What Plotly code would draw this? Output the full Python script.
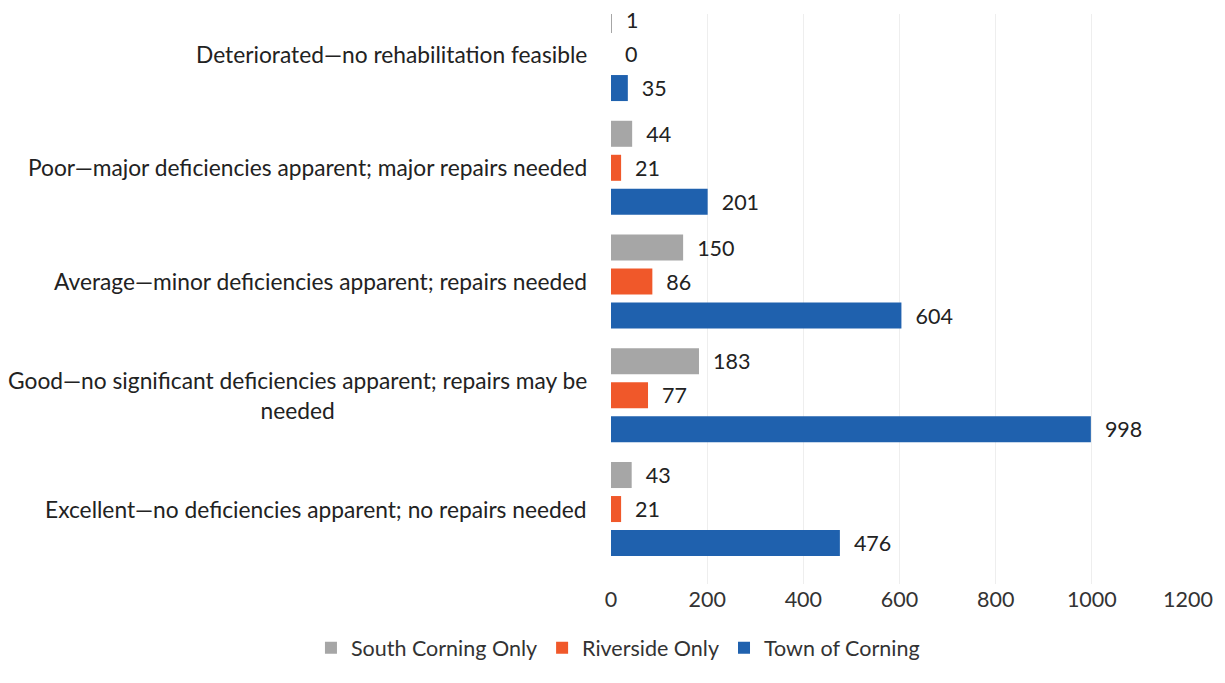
import plotly.graph_objects as go

categories = [
    "Excellent",
    "Good",
    "Average",
    "Poor",
    "Deteriorated",
]
category_labels = [
    "Excellent—no deficiencies apparent; no repairs needed",
    "Good—no significant deficiencies apparent; repairs may be<br>needed",
    "Average—minor deficiencies apparent; repairs needed",
    "Poor—major deficiencies apparent; major repairs needed",
    "Deteriorated—no rehabilitation feasible",
]
town_of_corning = [476, 998, 604, 201, 35]
riverside_only = [21, 77, 86, 21, 0]
south_corning_only = [43, 183, 150, 44, 1]

series = [
    ("Town of Corning", town_of_corning, "#1f61ae"),
    ("Riverside Only", riverside_only, "#f0582a"),
    ("South Corning Only", south_corning_only, "#a6a6a6"),
]

font_family = "Lato, Open Sans, sans-serif"
pad = "\u00a0\u00a0"

fig = go.Figure()
for name, vals, color in series:
    fig.add_trace(go.Bar(
        y=categories, x=vals, name=name, orientation="h",
        marker=dict(color=color, line=dict(width=0)),
        text=[pad + str(v) for v in vals], textposition="outside",
        textfont=dict(size=21.5, color="#222222", family=font_family),
        cliponaxis=False,
    ))

for cat, lab in zip(categories, category_labels):
    fig.add_annotation(x=0, xref="paper", xanchor="right", xshift=-22,
                       y=cat, yref="y", yanchor="middle", text=lab,
                       showarrow=False, align="center",
                       font=dict(size=22.75, color="#222222", family=font_family))

fig.update_layout(
    barmode="group", bargap=0.103, bargroupgap=0.235,
    width=1225, height=683,
    margin=dict(l=603, r=45, t=6, b=107),
    plot_bgcolor="white", paper_bgcolor="white",
    font=dict(family=font_family, size=21.5, color="#222222"),
    legend=dict(orientation="h", traceorder="reversed", x=-0.52, xanchor="left",
                y=-0.112, yanchor="middle", font=dict(size=21.5, color="#333333")),
    showlegend=True,
)
fig.update_xaxes(range=[0, 1200], dtick=200, showgrid=True, gridcolor="#eeeeee",
                 zeroline=False, showline=False, ticks="",
                 tickfont=dict(size=21.5, color="#333333"))
fig.update_yaxes(range=[-0.659, 4.352], showgrid=False, ticks="", showline=False,
                 showticklabels=False)

fig.write_html("out.html")
